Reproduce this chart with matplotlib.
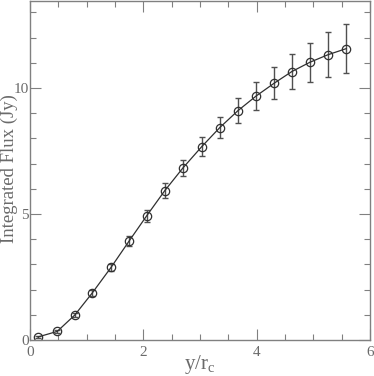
import matplotlib
matplotlib.use("Agg")
import matplotlib.pyplot as plt
from matplotlib.ticker import MultipleLocator

x_vals = [0.14, 0.48, 0.79, 1.10, 1.43, 1.75, 2.06, 2.38, 2.70, 3.03, 3.35, 3.67, 3.99, 4.31, 4.62, 4.94, 5.26, 5.58]
flux = [0.12, 0.34, 0.99, 1.87, 2.88, 3.93, 4.93, 5.93, 6.83, 7.67, 8.43, 9.10, 9.68, 10.19, 10.65, 11.02, 11.32, 11.56]
err = [0.03, 0.05, 0.08, 0.11, 0.14, 0.20, 0.24, 0.28, 0.31, 0.37, 0.41, 0.49, 0.55, 0.63, 0.71, 0.78, 0.89, 0.98]

plt.rcParams['font.family'] = ['Liberation Serif']
plt.rcParams['mathtext.fontset'] = 'custom'
plt.rcParams['mathtext.rm'] = 'Liberation Serif'

fig = plt.figure(figsize=(3.74, 3.76), dpi=100)
ax = fig.add_axes([30/374, 36/376, 340/374, 339/376])

gray = '#808080'
txt = '#6a6a6a'
ax.errorbar(x_vals, flux, yerr=err, fmt='none', ecolor='#505050', elinewidth=1.0, capsize=2.5, capthick=1.0)
ax.plot(x_vals, flux, '-', color='#303030', lw=0.9)
ax.plot(x_vals, flux, 'o', mfc='none', mec='#303030', ms=6, mew=0.9)

ax.set_xlim(0, 6)
ax.set_ylim(0, 13.45)
ax.xaxis.set_major_locator(MultipleLocator(2))
ax.xaxis.set_minor_locator(MultipleLocator(0.5))
ax.yaxis.set_major_locator(MultipleLocator(5))
ax.yaxis.set_minor_locator(MultipleLocator(1))
ax.tick_params(which='both', direction='in', top=True, right=True, color=gray, labelcolor=txt, labelsize=11)
ax.tick_params(which='major', length=8, width=0.8)
ax.tick_params(which='minor', length=4, width=0.8)
ax.tick_params(axis='x', pad=4)
ax.tick_params(axis='y', pad=1)
for s in ax.spines.values():
    s.set_color(gray)
    s.set_linewidth(1.0)

ax.set_xlabel(r'y/r$_{\mathregular{c}}$', fontsize=15, color=txt, va='center')
ax.xaxis.set_label_coords(0.5, -0.072)
ax.set_ylabel('Integrated Flux (Jy)', fontsize=13.5, color=txt, va='center')
ax.yaxis.set_label_coords(-0.062, 0.505)

fig.savefig('out.png', dpi=100)
